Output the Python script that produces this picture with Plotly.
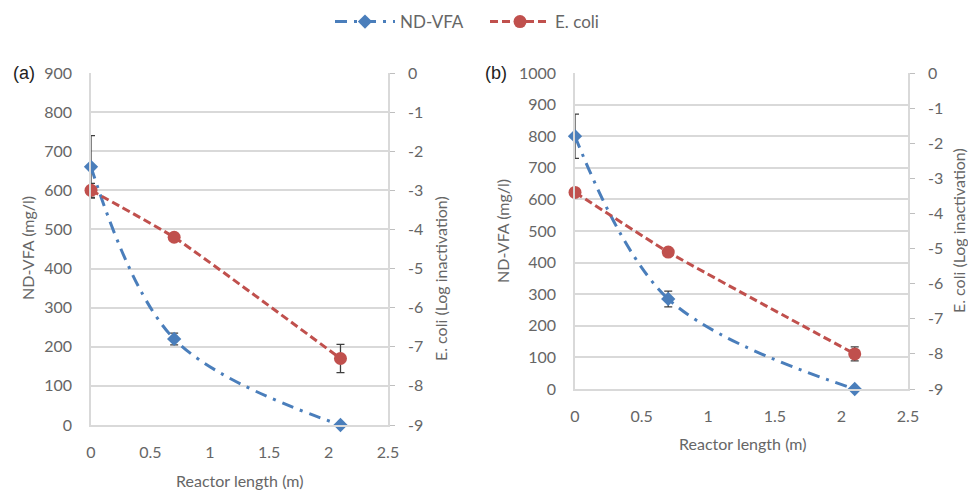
import plotly.graph_objects as go

# Reactor positions (m)
length = [0, 0.7, 2.1]

# Panel (a)
vfa_a = [660, 220, 0]
vfa_a_err = [80, 15, 0]
ecoli_a = [-3.0, -4.2, -7.3]
ecoli_a_err = [0.18, 0.1, 0.36]

# Panel (b)
vfa_b = [800, 285, 0]
vfa_b_err = [70, 25, 0]
ecoli_b = [-3.4, -5.1, -8.0]
ecoli_b_err = [0.1, 0.1, 0.2]

x_ticks = [0, 0.5, 1, 1.5, 2, 2.5]
x_tick_text = ["0", "0.5", "1", "1.5", "2", "2.5"]
log_ticks = [0, -1, -2, -3, -4, -5, -6, -7, -8, -9]
log_tick_text = ["0", "-1", "-2", "-3", "-4", "-5", "-6", "-7", "-8", "-9"]

W, H = 968, 490
BLUE = "#4a7ebb"
RED = "#c0504d"
GRID = "#d9d9d9"
AXIS = "#bfbfbf"
TXT = "#666666"
ERR = "#3f3f3f"
FONT = "Lato"

fig = go.Figure()


def add_panel(xa, ya, ya2, vfa, vfa_err, eco, eco_err, show_legend):
    fig.add_trace(go.Scatter(
        x=length, y=vfa, xaxis=xa, yaxis=ya, name="ND-VFA",
        mode="lines+markers", cliponaxis=False, showlegend=show_legend,
        line=dict(color=BLUE, width=3, dash="12px,7px,3px,7px", shape="spline", smoothing=1),
        marker=dict(symbol="diamond", size=11, color=BLUE),
        error_y=dict(type="data", array=vfa_err, color=ERR, thickness=1.3, width=4),
    ))
    fig.add_trace(go.Scatter(
        x=length, y=eco, xaxis=xa, yaxis=ya2, name="E. coli",
        mode="lines+markers", cliponaxis=False, showlegend=show_legend,
        line=dict(color=RED, width=3, dash="8px,4px", shape="spline", smoothing=0.4),
        marker=dict(symbol="circle", size=13, color=RED),
        error_y=dict(type="data", array=eco_err, color=ERR, thickness=1.3, width=4),
    ))


add_panel("x", "y", "y2", vfa_a, vfa_a_err, ecoli_a, ecoli_a_err, True)
add_panel("x2", "y3", "y4", vfa_b, vfa_b_err, ecoli_b, ecoli_b_err, False)

tick_font = dict(family=FONT, size=16, color=TXT)


def xaxis(domain, anchor):
    return dict(domain=domain, anchor=anchor, range=[0, 2.5], tickvals=x_ticks,
                ticktext=x_tick_text, showgrid=False, zeroline=False,
                showline=True, linecolor=GRID, linewidth=1.5,
                ticks="outside", ticklen=12, tickcolor="rgba(0,0,0,0)",
                tickfont=tick_font, automargin=False)


def yleft(domain, anchor, top):
    return dict(domain=domain, anchor=anchor, range=[0, top], dtick=100,
                showgrid=True, gridcolor=GRID, gridwidth=1.5, zeroline=False,
                showline=True, linecolor=GRID, linewidth=1.5,
                ticks="outside", ticklen=14, tickcolor="rgba(0,0,0,0)",
                tickfont=tick_font, automargin=False)


def yright(anchor, overlay):
    return dict(overlaying=overlay, anchor=anchor, side="right", range=[-9, 0],
                tickvals=log_ticks, ticktext=log_tick_text,
                showgrid=False, zeroline=False, showline=True, linecolor=GRID, linewidth=1.5,
                ticks="outside", ticklen=5, tickcolor=AXIS, ticklabelstandoff=10,
                tickfont=tick_font, automargin=False)


ya_dom = [1 - 425 / H, 1 - 73 / H]
yb_dom = [1 - 389 / H, 1 - 73 / H]
xa_dom = [91 / W, 388 / W]
xb_dom = [575 / W, 908 / W]

fig.update_layout(
    width=W, height=H,
    margin=dict(l=0, r=0, t=0, b=0, autoexpand=False),
    paper_bgcolor="white", plot_bgcolor="white",
    font=dict(family=FONT, size=16, color=TXT),
    xaxis=xaxis(xa_dom, "y"),
    yaxis=yleft(ya_dom, "x", 900),
    yaxis2=yright("x", "y"),
    xaxis2=xaxis(xb_dom, "y3"),
    yaxis3=yleft(yb_dom, "x2", 1000),
    yaxis4=yright("x2", "y3"),
    legend=dict(orientation="h", x=330 / W, xanchor="left", y=1 - 4 / H, yanchor="top",
                font=dict(family=FONT, size=17, color=TXT), itemwidth=60,
                entrywidth=80, entrywidthmode="pixels",
                bgcolor="rgba(0,0,0,0)"),
)


def ann(text, x, y, angle=0, size=16, color=TXT, family=FONT):
    fig.add_annotation(text=text, x=x / W, y=1 - y / H, xref="paper", yref="paper",
                       showarrow=False, textangle=angle, xanchor="center", yanchor="middle",
                       font=dict(family=family, size=size, color=color))


# Axis titles
ann("ND-VFA (mg/l)", 28, 248, -90)
ann("E. coli (Log inactivation)", 440, 279, -90)
ann("Reactor length (m)", 239, 480)
ann("ND-VFA (mg/l)", 502, 231, -90)
ann("E. coli (Log inactivation)", 958, 231, -90)
ann("Reactor length (m)", 742, 443)

# Panel labels
ann("(a)", 24, 73, size=18, color="#222222", family="Liberation Sans")
ann("(b)", 496, 73, size=18, color="#222222", family="Liberation Sans")

fig.write_html("out.html")
